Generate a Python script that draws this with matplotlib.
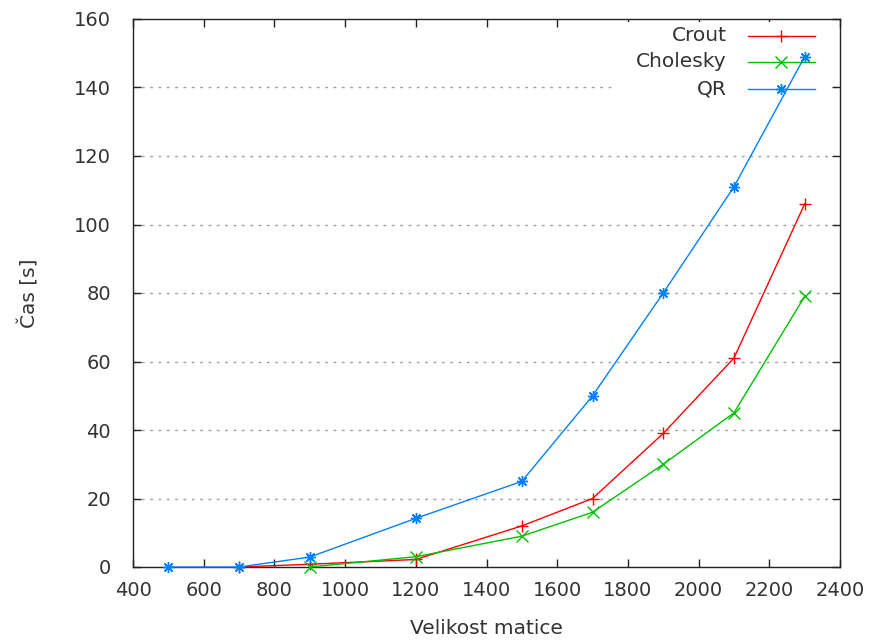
import matplotlib
matplotlib.use("Agg")
import matplotlib.pyplot as plt
from matplotlib.lines import Line2D
from matplotlib.patches import Rectangle

# Matrix sizes and measured times [s]
crout_n = [700, 900, 1200, 1500, 1700, 1900, 2100, 2300]
crout_t = [0.0, 0.8, 2.2, 12.0, 20.0, 39.0, 61.0, 106.0]

cholesky_n = [900, 1200, 1500, 1700, 1900, 2100, 2300]
cholesky_t = [0.0, 3.0, 9.0, 16.0, 30.0, 45.0, 79.0]

qr_n = [500, 700, 900, 1200, 1500, 1700, 1900, 2100, 2300]
qr_t = [0.0, 0.0, 2.9, 14.2, 25.0, 50.0, 80.0, 111.0, 149.0]

series_names = ["Crout", "Cholesky", "QR"]
series_colors = ["#ff0000", "#00c000", "#0080ff"]
series_markers = ["+", "x", (8, 2, 0)]

x_ticks = list(range(400, 2401, 200))
y_ticks = list(range(0, 161, 20))

plt.rcParams["font.family"] = ["DejaVu Sans"]
text_color = "#333333"

fig = plt.figure(figsize=(8.74, 6.43), dpi=100)
ax = fig.add_axes([133 / 874, 76 / 643, 707 / 874, 548 / 643])

ax.set_xlim(400, 2400)
ax.set_ylim(0, 160)
ax.set_xticks(x_ticks)
ax.set_yticks(y_ticks)
ax.tick_params(direction="in", length=6, width=1, top=True, right=True,
               labelsize=14, colors="#222222", labelcolor=text_color)
ax.tick_params(axis="x", pad=10)
ax.tick_params(axis="y", pad=16)
for s in ax.spines.values():
    s.set_color("#222222")
    s.set_linewidth(1)

# dotted horizontal grid at inner ticks
for yv in y_ticks[1:-1]:
    ax.axhline(yv, color="#a0a0a0", lw=1, ls=(0, (2, 4)), zorder=1)

ax.set_xlabel("Velikost matice", fontsize=14.5, color=text_color, labelpad=14)
ax.set_ylabel("Čas [s]", fontsize=14.5, color=text_color, labelpad=25)

data = [(crout_n, crout_t), (cholesky_n, cholesky_t), (qr_n, qr_t)]
for (xs, ys), name, c, m in zip(data, series_names, series_colors, series_markers):
    ax.plot(xs, ys, color=c, lw=1, marker=m, markersize=8, markeredgewidth=1,
            clip_on=False, zorder=3)

# key: white box, right-aligned labels, sample lines to the right
ax.add_patch(Rectangle((0.677, 0.852), 0.309, 0.143, transform=ax.transAxes,
                       facecolor="white", edgecolor="none", zorder=2))
row_y = [0.969, 0.922, 0.872]
for yy, name, c, m in zip(row_y, series_names, series_colors, series_markers):
    ax.text(0.840, yy, name, transform=ax.transAxes, ha="right", va="center",
            fontsize=14.5, color=text_color, zorder=4)
    ax.add_line(Line2D([0.870, 0.965], [yy, yy], transform=ax.transAxes,
                       color=c, lw=1, zorder=2.5))
    ax.add_line(Line2D([0.917], [yy], transform=ax.transAxes, color=c,
                       marker=m, markersize=8, markeredgewidth=1, lw=0, zorder=2.5))

fig.savefig("out.png", dpi=100)
